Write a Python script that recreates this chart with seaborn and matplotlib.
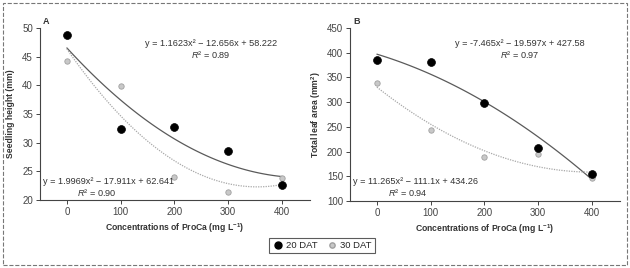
import pandas as pd
import seaborn as sns
import matplotlib.pyplot as plt
from matplotlib.patches import Rectangle
from matplotlib.lines import Line2D

# valores
dose = [0, 100, 200, 300, 400]
altura_20 = [48.7, 32.4, 32.7, 28.5, 22.6]
altura_30 = [44.2, 39.9, 24.0, 21.4, 23.9]
area_20 = [385, 381, 299, 207, 155]
area_30 = [338, 244, 190, 196, 147]

eq_a = ['y = 1.1623x² − 12.656x + 58.222', '0.89', 'y = 1.9969x² − 17.911x + 62.641', '0.90']
eq_b = ['y = -7.465x² − 19.597x + 427.58', '0.97', 'y = 11.265x² − 111.1x + 434.26', '0.94']

df = pd.DataFrame({'dose': dose * 2,
                   'altura': altura_20 + altura_30,
                   'area': area_20 + area_30,
                   'DAT': ['20 DAT'] * 5 + ['30 DAT'] * 5})

sns.set_style('ticks')
fonte = 'Liberation Sans'
plt.rcParams['font.family'] = [fonte, 'DejaVu Sans']
plt.rcParams['mathtext.fontset'] = 'custom'
plt.rcParams['mathtext.rm'] = fonte
plt.rcParams['mathtext.it'] = fonte + ':italic'
plt.rcParams['mathtext.bf'] = fonte + ':bold'

W, H = 630, 268
fig = plt.figure(figsize=(W / 100, H / 100), dpi=100)
ax_a = fig.add_axes([40 / W, 1 - 200 / H, 270 / W, 172 / H])
ax_b = fig.add_axes([350 / W, 1 - 201 / H, 270 / W, 173 / H])

estilo = {'20 DAT': dict(color='black', s=32, edgecolor='black', linewidth=0.5),
          '30 DAT': dict(color='#c8c8c8', s=15, edgecolor='#a0a0a0', linewidth=0.6)}
linha = {'20 DAT': dict(color='#5a5a5a', lw=0.9, ls='-'),
         '30 DAT': dict(color='#a8a8a8', lw=0.9, ls=(0, (1, 1)))}

cor_txt = '#333333'
for ax, col in [(ax_a, 'altura'), (ax_b, 'area')]:
    for g in ['20 DAT', '30 DAT']:
        sub = df[df['DAT'] == g]
        sns.regplot(data=sub, x='dose', y=col, order=2, ci=None, scatter=False,
                    line_kws=linha[g], ax=ax)
    for g in ['30 DAT', '20 DAT']:
        sub = df[df['DAT'] == g]
        sns.scatterplot(data=sub, x='dose', y=col, ax=ax, zorder=3, legend=False, **estilo[g])
    ax.set_xlim(-50, 452)
    ax.set_xticks(dose)
    ax.set_xlabel(r'Concentrations of ProCa (mg L$^{\mathbf{-1}}$)', fontsize=6.2,
                  fontweight='bold', color=cor_txt, labelpad=3)
    ax.tick_params(labelsize=7, length=3, width=0.7, colors='#444444', pad=2)
    for s in ['left', 'bottom']:
        ax.spines[s].set_color('#444444')
        ax.spines[s].set_linewidth(0.8)
    sns.despine(ax=ax)

ax_a.set_ylim(20, 50)
ax_a.set_yticks(range(20, 51, 5))
ax_a.set_ylabel('Seedling height (mm)', fontsize=6.2, fontweight='bold', color=cor_txt, labelpad=5)
ax_b.set_ylim(100, 450)
ax_b.set_yticks(range(100, 451, 50))
ax_b.set_ylabel(r'Total leaf area (mm$^{\mathbf{2}}$)', fontsize=6.2, fontweight='bold', color=cor_txt, labelpad=3)

# letras dos paineis
fig.text(43 / W, 1 - 22 / H, 'A', fontsize=6.5, fontweight='bold', ha='left', va='center', color=cor_txt)
fig.text(353 / W, 1 - 22 / H, 'B', fontsize=6.5, fontweight='bold', ha='left', va='center', color=cor_txt)

# equacoes
def equacoes(eq, x_top, x_bot, x_r2bot):
    kw = dict(fontsize=6.6, va='center', color=cor_txt)
    fig.text(x_top / W, 1 - 43 / H, eq[0], ha='center', **kw)
    fig.text(x_top / W, 1 - 55 / H, '$R$² = ' + eq[1], ha='center', **kw)
    fig.text(x_bot / W, 1 - 181 / H, eq[2], ha='left', **kw)
    fig.text(x_r2bot / W, 1 - 192 / H, '$R$² = ' + eq[3], ha='center', **kw)

equacoes(eq_a, 211, 43, 97)
equacoes(eq_b, 520, 353, 408)

# legenda
handles = [Line2D([], [], marker='o', ls='', markersize=5, markerfacecolor='black', markeredgecolor='black'),
           Line2D([], [], marker='o', ls='', markersize=3.8, markerfacecolor='#c8c8c8', markeredgecolor='#a0a0a0')]
leg = fig.legend(handles, ['20 DAT', '30 DAT'], loc='center', bbox_to_anchor=(322 / W, 1 - 245.5 / H),
                 ncol=2, fontsize=6.8, frameon=True, fancybox=False, handletextpad=0.2, columnspacing=1.0,
                 borderpad=0.35, handlelength=1.2)
leg.get_frame().set_edgecolor('#333333')
leg.get_frame().set_linewidth(0.8)

# moldura externa
fig.patches.append(Rectangle((3 / W, 3 / H), 624 / W, 262 / H, transform=fig.transFigure,
                             fill=False, edgecolor='#777777', linewidth=0.8, linestyle='--'))

plt.savefig('out.png', dpi=100)
